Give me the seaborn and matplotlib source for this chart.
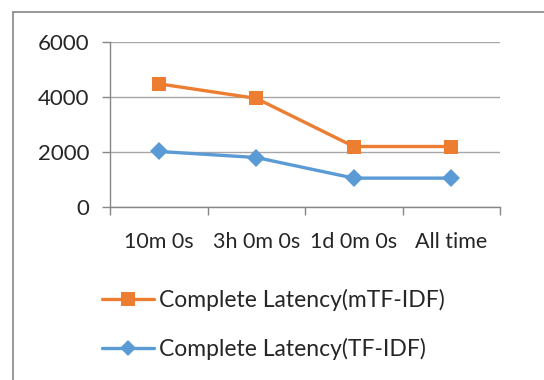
import matplotlib
matplotlib.use("Agg")
import matplotlib.pyplot as plt
import seaborn as sns
import pandas as pd
from matplotlib.lines import Line2D

categories = ["10m 0s", "3h 0m 0s", "1d 0m 0s", "All time"]
mtfidf = [4480, 3950, 2200, 2200]
tfidf = [2020, 1800, 1050, 1050]
series_names = ["Complete Latency(mTF-IDF)", "Complete Latency(TF-IDF)"]
yticks = [0, 2000, 4000, 6000]

sns.set_theme(style="white")
plt.rcParams['font.family'] = ['Lato', 'DejaVu Sans']

df = pd.DataFrame({
    "x": list(range(len(categories))) * 2,
    "value": mtfidf + tfidf,
    "series": [series_names[0]] * len(categories) + [series_names[1]] * len(categories),
})

orange = "#ED7D31"
blue = "#5B9BD5"
axis_gray = "#868686"
grid_gray = "#A6A6A6"

fig = plt.figure(figsize=(5.44, 3.80), dpi=100)
ax = fig.add_axes([110/544, 1 - 207/380, 390/544, 165/380])

sns.lineplot(data=df, x="x", y="value", hue="series", style="series",
             palette={series_names[0]: orange, series_names[1]: blue},
             markers={series_names[0]: "s", series_names[1]: "D"},
             dashes=False, linewidth=2.4, ax=ax, legend=False,
             markeredgewidth=0)
for ln, ms in zip(ax.lines, [10.5, 9]):
    ln.set_markersize(ms)

ax.set_xlim(-0.5, len(categories) - 0.5)
ax.set_ylim(0, 6000)
ax.set_yticks(yticks)
ax.set_yticklabels([str(v) for v in yticks])
ax.set_xticks([i - 0.5 for i in range(len(categories) + 1)])
ax.set_xticklabels([])
ax.set_xticks(range(len(categories)), minor=True)
ax.set_xticklabels(categories, minor=True)
ax.tick_params(axis="x", which="minor", length=0, pad=18, labelsize=15.5)
ax.tick_params(axis="x", which="major", length=6, width=1, color=axis_gray, direction="out", bottom=True)
ax.tick_params(axis="y", length=6, width=1, color=axis_gray, direction="out", left=True, pad=9, labelsize=16)
ax.set_xlabel("")
ax.set_ylabel("")

ax.grid(axis="y", color=grid_gray, linewidth=1)
ax.grid(axis="x", visible=False)
for s in ["top", "right"]:
    ax.spines[s].set_visible(False)
ax.spines["left"].set_color(axis_gray)
ax.spines["bottom"].set_color(axis_gray)
ax.spines["left"].set_linewidth(1)
ax.spines["bottom"].set_linewidth(1)

handles = [
    Line2D([], [], color=orange, marker="s", markersize=10, linewidth=2.4, markeredgewidth=0),
    Line2D([], [], color=blue, marker="D", markersize=8.5, linewidth=2.4, markeredgewidth=0),
]
fig.legend(handles, series_names, loc="upper left", bbox_to_anchor=(102/544, 1 - 289/380),
           frameon=False, fontsize=16.5, handlelength=2.25, handletextpad=0.25,
           labelspacing=1.15, borderaxespad=0, borderpad=0)

# outer chart frame (partially visible)
fig.add_artist(Line2D([13/544, 1.0], [1 - 12/380, 1 - 12/380], transform=fig.transFigure,
                      color=axis_gray, linewidth=1.2))
fig.add_artist(Line2D([13/544, 13/544], [1 - 12/380, 0], transform=fig.transFigure,
                      color=axis_gray, linewidth=1.2))

fig.savefig("out.png", dpi=100)
